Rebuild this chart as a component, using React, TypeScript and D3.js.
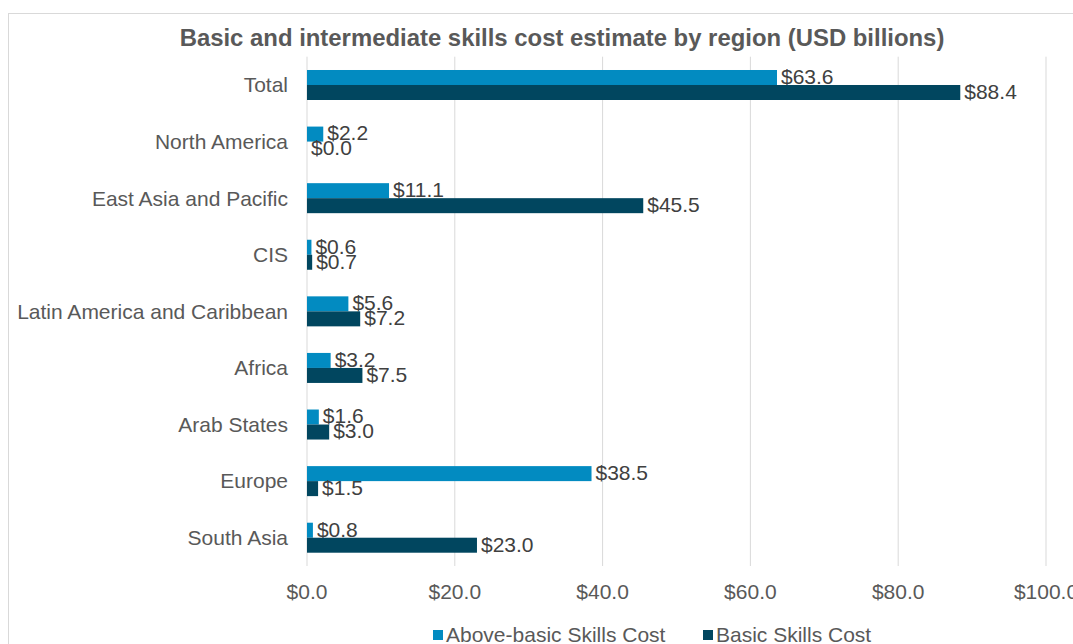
import React from "react";
import * as d3 from "d3";

const categories = [
  "Total",
  "North America",
  "East Asia and Pacific",
  "CIS",
  "Latin America and Caribbean",
  "Africa",
  "Arab States",
  "Europe",
  "South Asia",
];
const seriesNames = ["Above-basic Skills Cost", "Basic Skills Cost"];
const aboveBasic = [63.6, 2.2, 11.1, 0.6, 5.6, 3.2, 1.6, 38.5, 0.8];
const basic = [88.4, 0.0, 45.5, 0.7, 7.2, 7.5, 3.0, 1.5, 23.0];
const xTicks = [0, 20, 40, 60, 80, 100];
const title = "Basic and intermediate skills cost estimate by region (USD billions)";

const W = 1073;
const H = 644;
const FONT = "'Liberation Sans', Arial, sans-serif";
const colors = ["#028BC1", "#01465F"];

export default function App() {
  const x = d3.scaleLinear().domain([0, 100]).range([307, 1046]);
  const y = d3.scaleBand<string>().domain(categories).range([56.7, 566]).padding(0);
  const sub = d3.scaleBand<string>().domain(seriesNames).range([-15, 15]).padding(0);
  const fmt = (v: number) => "$" + d3.format(".1f")(v);
  const series = [aboveBasic, basic];

  return (
    <svg
      width={W}
      height={H}
      style={{ position: "absolute", left: 0, top: 0, background: "#fff" }}
      fontFamily={FONT}
    >
      <rect x={0} y={0} width={W} height={H} fill="#fff" />
      <rect x={8.5} y={13.5} width={1200} height={800} fill="none" stroke="#d9d9d9" strokeWidth={1} />
      <text x={562} y={46} textAnchor="middle" fontSize={23.9} fontWeight="bold" fill="#595959">
        {title}
      </text>
      {xTicks.map((t) => (
        <g key={t}>
          <line x1={x(t)} x2={x(t)} y1={56.7} y2={566} stroke="#d9d9d9" strokeWidth={1} />
          <text x={x(t)} y={599} textAnchor="middle" fontSize={21} fill="#595959">
            {fmt(t)}
          </text>
        </g>
      ))}
      {categories.map((c, i) => {
        const cy = (y(c) as number) + y.bandwidth() / 2;
        return (
          <g key={c}>
            <text x={288} y={cy} dy="0.35em" textAnchor="end" fontSize={21} fill="#595959">
              {c}
            </text>
            {series.map((vals, s) => {
              const by = cy + (sub(seriesNames[s]) as number);
              const v = vals[i];
              return (
                <g key={s}>
                  <rect
                    x={x(0)}
                    y={by}
                    width={x(v) - x(0)}
                    height={sub.bandwidth()}
                    fill={colors[s]}
                  />
                  <text
                    x={x(v) + 4}
                    y={by + sub.bandwidth() / 2 - 1}
                    dy="0.35em"
                    fontSize={21}
                    fill="#404040"
                  >
                    {fmt(v)}
                  </text>
                </g>
              );
            })}
          </g>
        );
      })}
      {seriesNames.map((s, i) => {
        const lx = [433, 703][i];
        return (
          <g key={s}>
            <rect x={lx} y={630} width={10} height={10} fill={colors[i]} />
            <text x={lx + 13} y={642} fontSize={21} fill="#595959">
              {s}
            </text>
          </g>
        );
      })}
    </svg>
  );
}
